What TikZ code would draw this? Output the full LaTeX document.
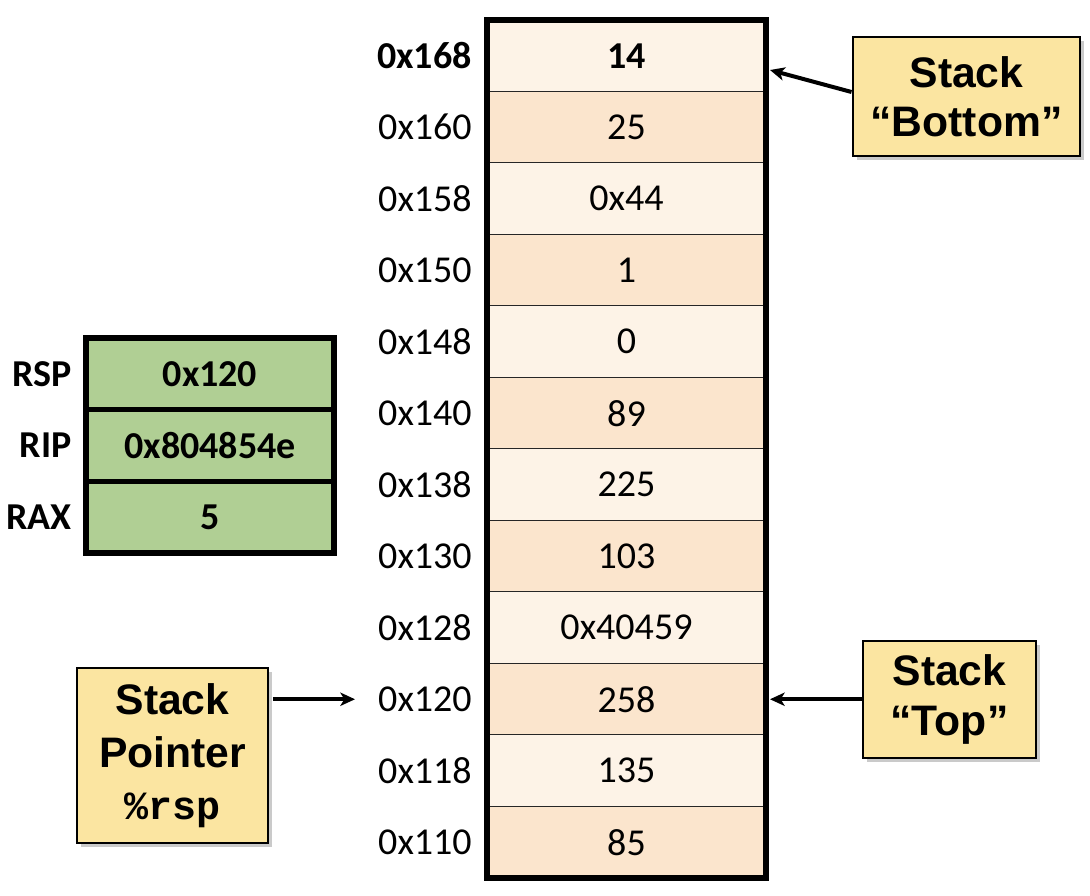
\documentclass[tikz,border=0pt]{standalone}
\usepackage{fontspec}
\setmainfont{Carlito}
\newfontfamily\helv{Liberation Sans}
\newfontfamily\cour{Liberation Mono}
\usetikzlibrary{arrows.meta,shadows}
\definecolor{rowlight}{HTML}{FDF3E7}
\definecolor{rowdark}{HTML}{FBE5CD}
\definecolor{reggreen}{HTML}{B0CF94}
\definecolor{calloutfill}{HTML}{FBE5A1}
\tikzset{
  addrtext/.style={font=\fontsize{28.5}{32}\selectfont, inner sep=0pt, anchor=east},
  valtext/.style={font=\fontsize{28.5}{32}\selectfont, inner sep=0pt},
  regtext/.style={font=\fontsize{28.5}{32}\selectfont\bfseries, inner sep=0pt},
  callout/.style={draw=black, line width=2.2pt, fill=calloutfill, align=center,
    font=\helv\bfseries\fontsize{32}{38}\selectfont, inner sep=0pt,
    drop shadow={shadow xshift=3pt, shadow yshift=-3pt, opacity=0.35, fill=black!60}},
  ptr/.style={line width=3pt, -{Stealth[length=11pt,width=10pt,inset=3pt]}},
}
\begin{document}
\begin{tikzpicture}[x=0.75pt,y=-0.75pt]
\useasboundingbox (0,0) rectangle (1090,896);
% stack rows
\foreach \i/\addr/\val in {1/\textbf{0x168}/\textbf{14},2/0x160/25,3/0x158/0x44,4/0x150/1,5/0x148/0,6/0x140/89,7/0x138/225,8/0x130/103,9/0x128/0x40459,10/0x120/258,11/0x118/135,12/0x110/85}{
  \pgfmathtruncatemacro\odd{mod(\i,2)}
  \ifnum\odd=1 \def\fc{rowlight}\else\def\fc{rowdark}\fi
  \fill[\fc] (487,{20+71.5*(\i-1)}) rectangle (766,{20+71.5*\i});
  \draw[line width=1.4pt, black!85] (487,{20+71.5*\i}) -- (766,{20+71.5*\i});
  \node[valtext] (v\i) at (626.5,{20+71.5*(\i-0.5)}) {\val};
  \node[addrtext] (a\i) at (472,{20+71.5*(\i-0.5)}) {\addr};
}
\draw[line width=4.5pt] (487,20) rectangle (766,878);
\coordinate (stackBot) at (770,70);
\coordinate (stackTop) at (770,699.25);
\coordinate (spTip) at (355,699.25);
% registers
\fill[reggreen] (86,338) rectangle (334,553);
\draw[line width=3.8pt] (86,338) rectangle (334,553);
\draw[line width=3.8pt] (86,409.7) -- (334,409.7);
\draw[line width=3.8pt] (86,481.3) -- (334,481.3);
\node[regtext, anchor=east] (rsp) at (72,374) {RSP};
\node[regtext, anchor=east] (rip) at (72,445.5) {RIP};
\node[regtext, anchor=east] (rax) at (72,517) {RAX};
\node[regtext] (rspv) at (210,374) {0x120};
\node[regtext] (ripv) at (210,445.5) {0x804854e};
\node[regtext] (raxv) at (210,517) {5};
% callouts
\node[callout, minimum width=170.25pt, minimum height=89.25pt] (bot) at (966.5,96.5) {Stack\\[-1pt]“Bottom”};
\node[callout, minimum width=129.75pt, minimum height=87.75pt] (top) at (949.5,699.5) {Stack\\[-1pt]“Top”};
\node[callout, minimum width=143.25pt, minimum height=131.25pt] (sp) at (172.5,755.5) {Stack\\[1.5pt]Pointer\\[1pt]{\cour\bfseries\fontsize{30}{36}\selectfont\%rsp}};
% arrows
\draw[ptr] (bot.west |- 0,92) -- (stackBot);
\draw[ptr] (top.west |- stackTop) -- (stackTop);
\draw[ptr] (sp.east |- spTip) ++(4,0) -- (spTip);
\end{tikzpicture}
\end{document}
